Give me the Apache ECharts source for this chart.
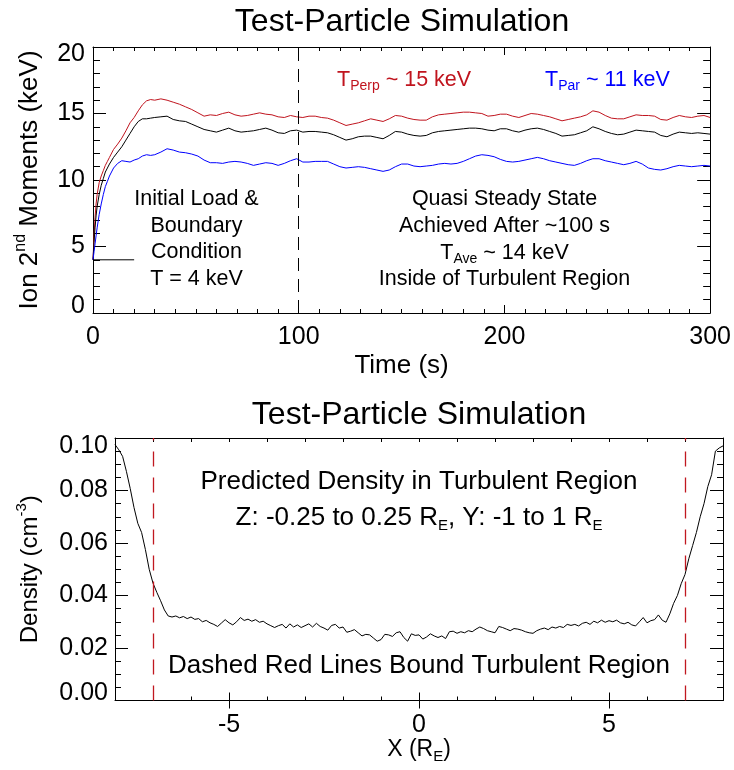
<!DOCTYPE html>
<html><head><meta charset="utf-8">
<script src="https://cdn.jsdelivr.net/npm/echarts@6/dist/echarts.min.js"></script>
<style>html,body{margin:0;padding:0;background:#fff}#c{width:734px;height:770px}</style>
</head><body><div id="c"></div>
<script>
const FONT = "'Liberation Sans', Arial, Helvetica, sans-serif";
const RED = '#c0141e';
const BLUE = '#0000ff';
const DASHRED = '#c01820';

// ---------- top panel data ----------
const timeS = [0,0.5,1,1.5,2,3,4,5,6,7,8,10,12,14,16,18,20,22,24,26,28,
  30,33,36,39,42,45,48,51,54,57,
  60,63,66,69,72,75,78,81,84,87,
  90,93,96,99,102,105,108,111,114,117,
  120,123,126,129,132,135,138,141,144,147,
  150,153,156,159,162,165,168,171,174,177,
  180,183,186,189,192,195,198,201,204,207,
  210,213,216,219,222,225,228,231,234,237,
  240,243,246,249,252,255,258,261,264,267,
  270,273,276,279,282,285,288,291,294,297,
  300];
const tPerp = [4.0,5.8,7.2,8.2,8.9,9.8,10.3,10.7,11.1,11.4,11.7,12.3,12.7,13.15,13.7,14.3,14.7,15.2,15.65,15.95,16.05,
  16.0,16.1,16.0,15.85,15.7,15.5,15.3,15.05,14.8,14.9,
  14.85,15.0,15.1,14.9,14.8,14.85,14.95,15.05,14.95,14.9,
  14.75,14.7,14.85,14.75,14.7,14.8,14.8,14.7,14.65,14.5,
  14.3,14.1,14.2,14.3,14.45,14.6,14.5,14.4,14.6,14.85,
  14.8,14.65,14.55,14.5,14.5,14.75,14.9,14.95,15.0,15.05,
  15.1,15.1,15.05,15.0,14.8,14.85,14.95,14.95,14.8,14.7,
  14.85,15.0,14.95,14.85,14.75,14.6,14.45,14.55,14.65,14.75,
  14.9,15.2,15.1,14.85,14.65,14.6,14.6,14.75,14.9,14.85,
  14.85,14.8,14.55,14.5,14.7,14.85,14.75,14.7,14.8,14.85,
  14.7];
const tAve = [4.0,5.3,6.4,7.3,8.0,8.9,9.6,10.1,10.6,10.9,11.2,11.7,12.1,12.5,13.0,13.5,14.0,14.4,14.6,14.6,14.65,
  14.7,14.75,14.8,14.55,14.45,14.4,14.2,14.0,13.8,13.7,
  13.6,13.75,13.9,13.7,13.6,13.65,13.7,13.8,13.9,13.75,
  13.55,13.5,13.7,13.75,13.6,13.65,13.65,13.6,13.55,13.4,
  13.2,13.0,13.1,13.25,13.3,13.3,13.2,13.1,13.35,13.65,
  13.6,13.45,13.35,13.3,13.35,13.55,13.65,13.7,13.75,13.8,
  13.85,13.9,13.9,13.85,13.75,13.7,13.85,13.85,13.7,13.6,
  13.75,13.85,13.9,13.8,13.65,13.5,13.3,13.35,13.4,13.55,
  13.7,14.0,13.85,13.65,13.5,13.4,13.45,13.6,13.75,13.7,
  13.65,13.6,13.35,13.25,13.45,13.6,13.55,13.5,13.55,13.5,
  13.45];
const tPar = [4.0,4.6,5.2,5.8,6.4,7.4,8.2,8.9,9.5,9.9,10.3,10.9,11.25,11.45,11.4,11.35,11.5,11.6,11.8,11.9,11.85,
  11.9,12.1,12.35,12.25,12.1,12.05,11.95,11.8,11.5,11.3,
  11.3,11.25,11.35,11.4,11.35,11.25,11.1,11.2,11.3,11.25,
  11.1,11.25,11.45,11.6,11.35,11.35,11.4,11.4,11.4,11.2,
  11.0,10.9,10.95,11.0,10.95,10.85,10.75,10.65,10.75,11.0,
  11.2,11.2,11.05,11.0,11.05,11.1,11.2,11.25,11.2,11.25,
  11.4,11.6,11.8,11.9,11.85,11.75,11.55,11.4,11.35,11.4,
  11.5,11.6,11.7,11.6,11.45,11.35,11.25,11.15,11.1,11.25,
  11.45,11.6,11.6,11.45,11.35,11.25,11.15,11.25,11.4,11.2,
  10.9,10.8,10.75,10.85,11.0,11.1,11.05,11.0,11.05,11.1,
  11.05];
const initT = [0, 20];
const initV = [4, 4];
const steadyT = [100];

// ---------- bottom panel data ----------
const xPos = [-8,-7.9,-7.8,-7.7,-7.6,-7.5,-7.4,-7.3,-7.2,-7.1,
  -7,-6.9,-6.8,-6.7,-6.6,-6.5,-6.4,-6.3,-6.2,-6.1,
  -6,-5.9,-5.8,-5.7,-5.6,-5.5,-5.4,-5.3,-5.2,-5.1,
  -5,-4.9,-4.8,-4.7,-4.6,-4.5,-4.4,-4.3,-4.2,-4.1,
  -4,-3.9,-3.8,-3.7,-3.6,-3.5,-3.4,-3.3,-3.2,-3.1,
  -3,-2.9,-2.8,-2.7,-2.6,-2.5,-2.4,-2.3,-2.2,-2.1,
  -2,-1.9,-1.8,-1.7,-1.6,-1.5,-1.4,-1.3,-1.2,-1.1,
  -1,-0.9,-0.8,-0.7,-0.6,-0.5,-0.4,-0.3,-0.2,-0.1,
  0,0.1,0.2,0.3,0.4,0.5,0.6,0.7,0.8,0.9,
  1,1.1,1.2,1.3,1.4,1.5,1.6,1.7,1.8,1.9,
  2,2.1,2.2,2.3,2.4,2.5,2.6,2.7,2.8,2.9,
  3,3.1,3.2,3.3,3.4,3.5,3.6,3.7,3.8,3.9,
  4,4.1,4.2,4.3,4.4,4.5,4.6,4.7,4.8,4.9,
  5,5.1,5.2,5.3,5.4,5.5,5.6,5.7,5.8,5.9,
  6,6.1,6.2,6.3,6.4,6.5,6.6,6.7,6.8,6.9,
  7,7.1,7.2,7.3,7.4,7.5,7.6,7.7,7.8,7.9,8];
const density = [0.0975,0.0955,0.0930,0.0873,0.0808,0.0735,0.0675,0.0640,0.0575,0.0500,
  0.0447,0.0412,0.0380,0.0345,0.0322,0.0318,0.0322,0.0315,0.0320,0.0312,
  0.0318,0.0309,0.0312,0.0300,0.0305,0.0296,0.0290,0.0282,0.0295,0.0308,
  0.0296,0.0288,0.0300,0.0316,0.0305,0.0310,0.0302,0.0308,0.0298,0.0302,
  0.0292,0.0285,0.0278,0.0285,0.0290,0.0276,0.0292,0.0280,0.0288,0.0278,
  0.0285,0.0292,0.0280,0.0294,0.0282,0.0276,0.0268,0.0286,0.0290,0.0276,
  0.0280,0.0260,0.0264,0.0270,0.0258,0.0246,0.0252,0.0250,0.0238,0.0226,
  0.0232,0.0252,0.0250,0.0244,0.0258,0.0262,0.0240,0.0226,0.0254,0.0248,
  0.0250,0.0234,0.0242,0.0254,0.0246,0.0240,0.0246,0.0236,0.0262,0.0264,
  0.0256,0.0262,0.0258,0.0266,0.0262,0.0272,0.0280,0.0274,0.0266,0.0262,
  0.0258,0.0282,0.0278,0.0272,0.0266,0.0274,0.0272,0.0268,0.0262,0.0258,
  0.0256,0.0266,0.0272,0.0276,0.0270,0.0280,0.0276,0.0282,0.0278,0.0290,
  0.0286,0.0290,0.0284,0.0294,0.0298,0.0290,0.0302,0.0296,0.0306,0.0298,
  0.0304,0.0300,0.0306,0.0296,0.0292,0.0298,0.0288,0.0284,0.0300,0.0316,
  0.0296,0.0304,0.0308,0.0326,0.0306,0.0298,0.0330,0.0370,0.0400,0.0445,
  0.0480,0.0540,0.0590,0.0640,0.0700,0.0750,0.0815,0.0860,0.0950,0.0962,0.0970];
const boundX = [-7, 7];

const topXTicks = {min: 0, max: 300, interval: 100};
const topYTicks = {min: 0, max: 20, interval: 5};
const botXMajor = [-5, 0, 5];
const botYTicks = {min: 0, max: 0.1, interval: 0.02};

function pairs(xs, ys) { return xs.map((x, i) => [x, ys[i]]); }

const black = {color: '#000', width: 1};
const noSplit = {splitLine: {show: false}, minorSplitLine: {show: false}};

function xAx(o) {
  return Object.assign({type: 'value', axisLine: {show: true, onZero: false, lineStyle: black},
    axisTick: {inside: true, length: 8, lineStyle: black}, axisLabel: {show: false}}, noSplit, o);
}
function yAx(o) {
  return Object.assign({type: 'value', axisLine: {show: true, onZero: false, lineStyle: black},
    axisTick: {inside: true, length: 13, lineStyle: black}, axisLabel: {show: false}}, noSplit, o);
}

const labelStyle = {show: true, color: '#000', fontSize: 25, fontFamily: FONT};

const option = {
  animation: false,
  backgroundColor: '#fff',
  grid: [
    {left: 93, top: 47, width: 618, height: 266, show: false},
    {left: 115, top: 438, width: 608, height: 262.5, show: false}
  ],
  xAxis: [
    xAx({gridIndex: 0, position: 'bottom', min: topXTicks.min, max: topXTicks.max, interval: topXTicks.interval,
      minorTick: {show: true, splitNumber: 10, length: 4, lineStyle: black},
      axisLabel: Object.assign({}, labelStyle, {margin: 12}),
      name: 'Time (s)', nameLocation: 'middle', nameGap: 40,
      nameTextStyle: {color: '#000', fontSize: 26, fontFamily: FONT}}),
    xAx({gridIndex: 0, position: 'top', min: topXTicks.min, max: topXTicks.max, interval: topXTicks.interval,
      minorTick: {show: true, splitNumber: 10, length: 4, lineStyle: black}}),
    xAx({gridIndex: 1, position: 'bottom', min: -8, max: 8, interval: 1,
      axisTick: {inside: true, length: 4, lineStyle: black},
      axisLabel: Object.assign({}, labelStyle, {margin: 12,
        formatter: v => (botXMajor.indexOf(v) >= 0 ? String(v) : '')}),
      name: '{m|X (R}{s|E}{m|)}', nameLocation: 'middle', nameGap: 33,
      nameTextStyle: {color: '#000', fontFamily: FONT, rich: {
        m: {fontSize: 23, lineHeight: 26, padding: [0, 0, 5, 0], verticalAlign: 'top', fontFamily: FONT, color: '#000'},
        s: {fontSize: 15, lineHeight: 16, verticalAlign: 'bottom', fontFamily: FONT, color: '#000'}}}}),
    xAx({gridIndex: 1, position: 'bottom', min: -8, max: 8, axisLine: {show: false},
      axisTick: {inside: true, length: 8, lineStyle: black, customValues: botXMajor}}),
    xAx({gridIndex: 1, position: 'top', min: -8, max: 8, interval: 1,
      axisTick: {inside: true, length: 4, lineStyle: black}}),
    xAx({gridIndex: 1, position: 'top', min: -8, max: 8, axisLine: {show: false},
      axisTick: {inside: true, length: 8, lineStyle: black, customValues: botXMajor}})
  ],
  yAxis: [
    yAx({gridIndex: 0, position: 'left', min: topYTicks.min, max: topYTicks.max, interval: topYTicks.interval,
      minorTick: {show: true, splitNumber: 5, length: 7, lineStyle: black},
      axisLabel: Object.assign({}, labelStyle, {margin: 8,
        formatter: v => v === topYTicks.max ? '{a|' + v + '}' : (v === topYTicks.min ? '{b|' + v + '}' : String(v)),
        rich: {a: {padding: [14, 0, 0, 0], fontSize: 25, fontFamily: FONT, color: '#000'},
               b: {padding: [0, 0, 14, 0], fontSize: 25, fontFamily: FONT, color: '#000'}}}),
      name: '{m|Ion 2}{s|nd}{m| Moments (keV)}', nameLocation: 'middle', nameGap: 50, nameRotate: 90,
      nameTextStyle: {color: '#000', fontFamily: FONT, rich: {
        m: {fontSize: 26, lineHeight: 30, padding: [4, 0, 0, 0], verticalAlign: 'bottom', fontFamily: FONT, color: '#000'},
        s: {fontSize: 16, lineHeight: 16, verticalAlign: 'top', fontFamily: FONT, color: '#000'}}}}),
    yAx({gridIndex: 0, position: 'right', min: topYTicks.min, max: topYTicks.max, interval: topYTicks.interval,
      minorTick: {show: true, splitNumber: 5, length: 7, lineStyle: black}}),
    yAx({gridIndex: 1, position: 'left', min: botYTicks.min, max: botYTicks.max, interval: botYTicks.interval,
      minorTick: {show: true, splitNumber: 4, length: 6, lineStyle: black},
      axisLabel: Object.assign({}, labelStyle, {margin: 7,
        formatter: v => {
          const s = v.toFixed(2);
          if (Math.abs(v - botYTicks.max) < 1e-9) return '{a|' + s + '}';
          if (Math.abs(v - botYTicks.min) < 1e-9) return '{b|' + s + '}';
          return s;
        },
        rich: {a: {padding: [16, 0, 0, 0], fontSize: 25, fontFamily: FONT, color: '#000'},
               b: {padding: [0, 0, 14, 0], fontSize: 25, fontFamily: FONT, color: '#000'}}}),
      name: '{m|Density (cm}{s|-3}{m|)}', nameLocation: 'middle', nameGap: 73, nameRotate: 90,
      nameTextStyle: {color: '#000', fontFamily: FONT, rich: {
        m: {fontSize: 24, lineHeight: 28, padding: [4, 0, 0, 0], verticalAlign: 'bottom', fontFamily: FONT, color: '#000'},
        s: {fontSize: 15, lineHeight: 15, verticalAlign: 'top', fontFamily: FONT, color: '#000'}}}}),
    yAx({gridIndex: 1, position: 'right', min: botYTicks.min, max: botYTicks.max, interval: botYTicks.interval,
      minorTick: {show: true, splitNumber: 4, length: 6, lineStyle: black}})
  ],
  series: [
    {name: 'TPerp', type: 'line', xAxisIndex: 0, yAxisIndex: 0, data: pairs(timeS, tPerp),
      showSymbol: false, lineStyle: {color: RED, width: 1}, itemStyle: {color: RED}, silent: true},
    {name: 'TAve', type: 'line', xAxisIndex: 0, yAxisIndex: 0, data: pairs(timeS, tAve),
      showSymbol: false, lineStyle: {color: '#000', width: 1}, itemStyle: {color: '#000'}, silent: true,
      markLine: {silent: true, symbol: 'none', label: {show: false},
        lineStyle: {color: '#000', width: 1, type: [13, 8]},
        data: steadyT.map(t => ({xAxis: t}))}},
    {name: 'TPar', type: 'line', xAxisIndex: 0, yAxisIndex: 0, data: pairs(timeS, tPar),
      showSymbol: false, lineStyle: {color: BLUE, width: 1}, itemStyle: {color: BLUE}, silent: true},
    {name: 'Init', type: 'line', xAxisIndex: 0, yAxisIndex: 0, data: pairs(initT, initV),
      showSymbol: false, lineStyle: {color: '#000', width: 1}, itemStyle: {color: '#000'}, silent: true},
    {name: 'Bounds', type: 'line', xAxisIndex: 2, yAxisIndex: 2, data: [],
      showSymbol: false, silent: true, itemStyle: {color: DASHRED}, lineStyle: {color: DASHRED},
      markLine: {silent: true, symbol: 'none', label: {show: false},
        itemStyle: {color: DASHRED},
        lineStyle: {color: DASHRED, width: 1.3, type: [15, 11], opacity: 1},
        emphasis: {disabled: true},
        data: boundX.map(x => ({xAxis: x, lineStyle: {color: DASHRED, width: 1.3, type: [15, 11]}}))}},
    {name: 'Density', type: 'line', xAxisIndex: 2, yAxisIndex: 2, data: pairs(xPos, density),
      showSymbol: false, lineStyle: {color: '#000', width: 1}, itemStyle: {color: '#000'}, silent: true}
  ],
  graphic: []
};

function txt(x, y, text, size, color, rich) {
  const st = {text: text, x: x, y: y, fill: color || '#000', fontSize: size, fontFamily: FONT,
    align: 'center', verticalAlign: 'middle', textAlign: 'center', textVerticalAlign: 'middle'};
  if (rich) st.rich = rich;
  return {type: 'text', silent: true, style: st};
}
function subRich(size, sub, color, pad) {
  return {
    m: {fontSize: size, lineHeight: size + 3, padding: [0, 0, pad, 0], verticalAlign: 'top', fontFamily: FONT, fill: color, color: color},
    s: {fontSize: sub, lineHeight: sub + 2, verticalAlign: 'bottom', fontFamily: FONT, fill: color, color: color}
  };
}
function txtL(x, y, text, size, color, rich) {
  const o = txt(x, y, text, size, color, rich);
  o.style.align = 'left'; o.style.textAlign = 'left';
  return o;
}

option.graphic = [
  txt(402, 22, 'Test-Particle Simulation', 32),
  txt(419, 415, 'Test-Particle Simulation', 32),
  txtL(337, 81, '{m|T}{s|Perp}{m| ~ 15 keV}', 21.5, RED, subRich(21.5, 14, RED, 3)),
  txtL(545, 81, '{m|T}{s|Par}{m| ~ 11 keV}', 21.5, BLUE, subRich(21.5, 14, BLUE, 3)),
  txt(196.5, 199, 'Initial Load &', 21.5),
  txt(196.5, 226, 'Boundary', 21.5),
  txt(196.5, 252.5, 'Condition', 21.5),
  txt(196.5, 279, 'T = 4 keV', 21.5),
  txt(504.5, 199.5, 'Quasi Steady State', 21.5),
  txt(504.5, 226, 'Achieved After ~100 s', 21.5),
  txt(504.5, 254, '{m|T}{s|Ave}{m| ~ 14 keV}', 21.5, '#000', subRich(21.5, 14, '#000', 3)),
  txt(504.5, 279, 'Inside of Turbulent Region', 21.5),
  txt(419, 482, 'Predicted Density in Turbulent Region', 26),
  txt(419, 519, '{m|Z: -0.25 to 0.25 R}{s|E}{m|, Y: -1 to 1 R}{s|E}', 26, '#000', subRich(26, 15, '#000', 3)),
  txt(419, 666, 'Dashed Red Lines Bound Turbulent Region', 26)
];

const chart = echarts.init(document.getElementById('c'), null, {renderer: 'canvas'});
chart.setOption(option);
</script>
</body></html>
